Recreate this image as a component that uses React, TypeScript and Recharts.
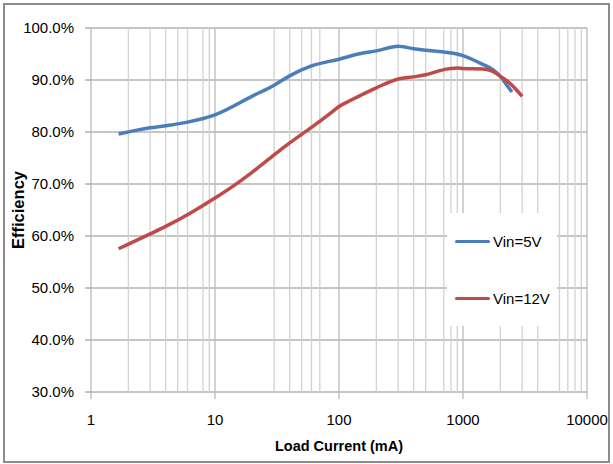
import React from "react";
import { CartesianGrid, Label, Legend, Line, LineChart, ReferenceLine, XAxis, YAxis } from "recharts";

// Vin = 5V
const load5 = [1.67, 3, 4, 6, 10, 20, 30, 40, 60, 100, 150, 200, 300, 400, 500, 700, 1000, 1360, 1740, 2000, 2240, 2480];
const eff5 = [79.6, 80.8, 81.2, 81.9, 83.3, 86.9, 89.0, 90.8, 92.7, 94.0, 95.1, 95.6, 96.5, 96.0, 95.7, 95.4, 94.7, 93.3, 92.0, 90.7, 89.1, 87.7];

// Vin = 12V
const load12 = [1.67, 3, 4, 6, 10, 14, 20, 30, 40, 60, 85, 100, 122, 200, 300, 400, 500, 700, 900, 1000, 1450, 1740, 2000, 2380, 3000];
const eff12 = [57.55, 60.4, 61.85, 64.1, 67.3, 69.6, 72.3, 75.6, 77.9, 80.9, 83.6, 84.9, 86.0, 88.5, 90.2, 90.6, 91.0, 92.0, 92.3, 92.2, 92.1, 91.65, 90.7, 89.4, 86.85];

const xMajor = [1, 10, 100, 1000, 10000];
const xMinor = [2, 3, 4, 5, 6, 8, 9, 30, 40, 50, 60, 70, 200, 300, 400, 500, 700, 800, 900, 2000, 3000, 4000, 6000, 7000, 8000, 9000];
const yTicks = [30, 40, 50, 60, 70, 80, 90, 100];

const series = [
  { name: "Vin=5V", color: "#4a7ebb", data: load5.map((x, i) => ({ x, y: eff5[i] })) },
  { name: "Vin=12V", color: "#be4b48", data: load12.map((x, i) => ({ x, y: eff12[i] })) },
];

const font = "'Liberation Sans', Arial, sans-serif";

function LegendBox() {
  return (
    <div style={{ fontFamily: font, fontSize: 15, color: "#000" }}>
      {series.map((s, i) => (
        <div
          key={s.name}
          style={{ position: "absolute", left: 8, top: i === 0 ? 19 : 76, height: 18, display: "flex", alignItems: "center" }}
        >
          <span style={{ display: "inline-block", width: 35, height: 3, borderRadius: 2, background: s.color, marginRight: 3 }} />
          <span>{s.name}</span>
        </div>
      ))}
    </div>
  );
}

export default function App() {
  return (
    <div style={{ position: "absolute", left: 0, top: 0, width: 613, height: 464, background: "#fff" }}>
      <div
        style={{
          position: "absolute",
          left: 3,
          top: 3,
          width: 607,
          height: 460,
          border: "2px solid #8c8c8c",
          boxSizing: "border-box",
        }}
      />
      <div style={{ position: "absolute", left: 0, top: 0 }}>
        <LineChart width={613} height={464} margin={{ top: 28, right: 26, bottom: 10, left: 31 }}>
          <CartesianGrid vertical={false} stroke="#8c8c8c" strokeWidth={1} />
          {xMinor.map((v) => (
            <ReferenceLine key={"m" + v} x={v} stroke="#d2d2d2" strokeWidth={1.3} />
          ))}
          {xMajor.map((v) => (
            <ReferenceLine key={"M" + v} x={v} stroke="#bcbcbc" strokeWidth={1.3} />
          ))}
          <XAxis
            dataKey="x"
            type="number"
            scale="log"
            domain={[1, 10000]}
            ticks={xMajor}
            allowDataOverflow
            axisLine={false}
            tickLine={{ stroke: "#bcbcbc", strokeWidth: 1.3 }}
            tickSize={7}
            tickMargin={15}
            height={62}
            tick={{ fill: "#000", fontSize: 15, fontFamily: font }}
          >
            <Label
              value="Load Current (mA)"
              position="insideBottom"
              offset={3}
              style={{ fontFamily: font, fontSize: 14.5, fontWeight: 700, fill: "#000" }}
            />
          </XAxis>
          <YAxis
            type="number"
            domain={[30, 100]}
            ticks={yTicks}
            width={60}
            axisLine={false}
            tickLine={{ stroke: "#8c8c8c" }}
            tickSize={6}
            tickMargin={11}
            tickFormatter={(v) => v.toFixed(1) + "%"}
            tick={{ fill: "#000", fontSize: 15, fontFamily: font }}
          >
            <Label
              content={(props: any) => {
                const vb = props.viewBox;
                const cx = vb.x - 13;
                const cy = vb.y + vb.height / 2;
                return (
                  <text
                    x={cx}
                    y={cy}
                    transform={`rotate(-90 ${cx} ${cy})`}
                    textAnchor="middle"
                    dominantBaseline="central"
                    style={{ fontFamily: font, fontSize: 16.5, fontWeight: 700, fill: "#000" }}
                  >
                    Efficiency
                  </text>
                );
              }}
            />
          </YAxis>
          {series.map((s) => (
            <Line
              key={s.name}
              data={s.data}
              dataKey="y"
              name={s.name}
              type="monotone"
              stroke={s.color}
              strokeWidth={3.5}
              dot={false}
              isAnimationActive={false}
            />
          ))}
          <Legend
            layout="horizontal"
            verticalAlign="middle"
            align="center"
            content={() => <LegendBox />}
            wrapperStyle={{ position: "absolute", left: 447, top: 213, width: 110, height: 113, background: "#fff" }}
          />
        </LineChart>
      </div>
    </div>
  );
}
